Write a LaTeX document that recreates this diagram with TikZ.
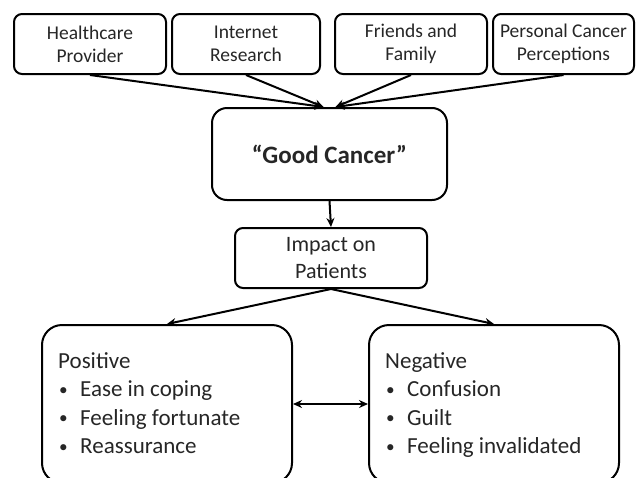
\documentclass[tikz,border=0pt]{standalone}
\usepackage{graphicx}
\usepackage{fontspec}
\setmainfont{Carlito}
\usetikzlibrary{arrows.meta,calc}
\newcommand{\mybul}{\makebox[22pt][l]{\hspace{1pt}\raisebox{1.5pt}{\scalebox{0.75}{•}}}}
\begin{document}
\begin{tikzpicture}[x=1pt,y=-1pt,
  box/.style={draw, line width=2pt, align=center, inner sep=0pt, text=black!85},
  topbox/.style={box, rounded corners=8pt, minimum width=150pt, minimum height=60pt, font=\fontsize{19.5}{23}\selectfont},
  bigbox/.style={box, rounded corners=20pt, minimum width=250pt, minimum height=158pt},
  listtext/.style={anchor=north west, inner sep=0pt, align=left, text=black!85, font=\fontsize{23}{28.5}\selectfont},
  arr/.style={-{Stealth[length=9pt,width=8pt]}, line width=2pt},
  darr/.style={{Stealth[length=9pt,width=8pt]}-{Stealth[length=9pt,width=8pt]}, line width=2pt},
]
\useasboundingbox (0,0) rectangle (637,477);
\clip (0,0) rectangle (637,477);
\node[topbox, minimum width=152pt] (hp) at (90,44) {Healthcare\\Provider};
\node[topbox, minimum width=148pt] (ir) at (246,44) {Internet\\Research};
\node[topbox, minimum width=152pt] (ff) at (411,44) {Friends and\\Family};
\node[topbox, minimum width=141pt] (pc) at (563.5,44) {Personal Cancer\\Perceptions};

\node[box, rounded corners=15pt, minimum width=235pt, minimum height=92pt, font=\fontsize{25}{30}\selectfont\bfseries] (gc) at (329.5,154) {“Good Cancer”};

\node[box, rounded corners=8pt, minimum width=192pt, minimum height=60pt, font=\fontsize{22}{27}\selectfont] (imp) at (331,258) {Impact on\\Patients};

\node[bigbox] (pos) at (167,404) {};
\node[bigbox] (neg) at (494,404) {};

\node[listtext] (postext) at (58,352) {Positive\\\mybul Ease in coping\\\mybul Feeling fortunate\\\mybul Reassurance};
\node[listtext] (negtext) at (385,352) {Negative\\\mybul Confusion\\\mybul Guilt\\\mybul Feeling invalidated};

\coordinate (gcl) at ($(gc.north)+(-6,0)$);
\coordinate (gcr) at ($(gc.north)+(6,0)$);
\draw[arr] (hp.south) -- (gcl);
\draw[arr] (ir.south) -- (gcl);
\draw[arr] (ff.south) -- (gcr);
\draw[arr] (pc.south) -- (gcr);
\draw[arr] (gc.south) -- (imp.north);
\draw[arr] (imp.south) -- (pos.north);
\draw[arr] (imp.south) -- (neg.north);
\draw[darr] (pos.east) -- (neg.west);
\end{tikzpicture}
\end{document}
